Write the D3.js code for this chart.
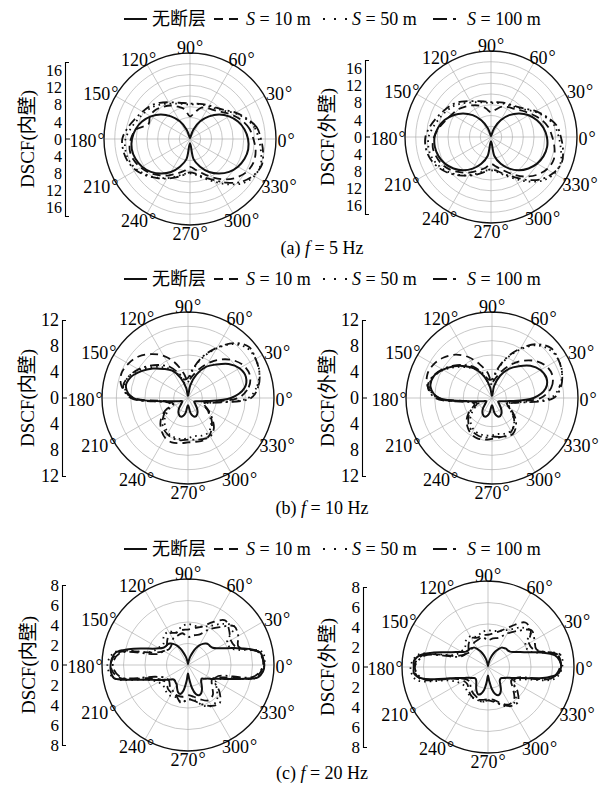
<!DOCTYPE html>
<html>
<head>
<meta charset="utf-8">
<script src="https://cdn.jsdelivr.net/npm/d3@7"></script>
<style>
body { margin: 0; background: #fff; }
text { font-family: "Liberation Serif", "Times New Roman", "Noto Sans CJK SC", serif; }
</style>
</head>
<body>
<svg id="chart" width="614" height="791"></svg>
<script>

// angle grids (degrees, counter-clockwise from 0°)
const ang10 = d3.range(0, 360, 10)
const ang5 = d3.range(0, 360, 5)

// (a) f = 5 Hz, inner wall
const aInNone = [10.8,10.3,9.5,8.4,7.1,5.5,3.8,1.9,0.3,0.2,0.3,1.9,3.8,5.5,7.1,8.4,9.5,10.3,10.8,11.0,10.8,10.3,9.5,8.4,7.1,5.5,3.8,0.8,3.8,5.5,7.1,8.4,9.5,10.3,10.8,11.0]
const aInS10 = [11.8,11.2,10.2,9.0,7.8,7.0,6.6,6.2,5.0,4.2,5.6,6.4,7.2,7.8,8.4,8.6,8.2,10.2,11.0,11.4,11.2,10.6,9.8,8.8,7.8,6.8,6.0,5.2,5.8,6.8,8.2,9.8,11.2,12.2,12.6,12.4]
const aInS50 = [12.8,12.2,11.0,9.6,8.2,7.4,7.0,6.8,6.6,6.4,6.6,7.0,7.6,8.4,9.2,9.8,10.4,11.2,12.0,12.2,12.0,11.4,10.4,9.4,8.4,7.4,6.6,6.4,6.8,7.8,9.2,11.0,12.8,13.8,14.0,13.4]
const aInS100 = [13.2,12.6,11.2,9.8,8.4,7.6,7.2,6.9,6.7,6.6,6.8,7.2,7.9,8.8,9.6,10.2,10.9,11.8,12.6,12.6,12.3,11.6,10.6,9.5,8.5,7.6,6.8,6.2,6.6,7.6,8.8,10.6,12.4,13.6,14.2,13.8]

// (a) f = 5 Hz, outer wall
const aOutNone = [10.4,9.9,9.1,8.1,6.8,5.3,3.6,1.8,0.3,0.2,0.3,1.8,3.6,5.3,6.8,8.1,9.2,10.0,10.5,10.6,10.4,9.9,9.1,8.1,6.8,5.3,3.6,0.8,3.6,5.3,6.8,8.1,9.1,9.9,10.4,10.6]
const aOutS10 = [11.4,10.8,9.8,8.6,7.6,6.8,6.4,6.0,5.2,4.6,5.4,6.2,6.8,7.4,8.0,8.4,9.0,9.8,10.6,11.0,10.8,10.4,9.6,8.6,7.6,6.6,5.8,5.0,5.6,6.6,8.0,9.6,11.0,12.0,12.4,12.0]
const aOutS50 = [12.6,12.0,10.8,9.4,8.0,7.2,6.8,6.6,6.4,6.3,6.5,6.9,7.4,8.2,9.0,9.6,10.2,10.9,11.6,11.8,11.6,11.0,10.2,9.2,8.2,7.2,6.4,6.2,6.6,7.6,9.0,10.8,12.6,13.6,13.8,13.2]
const aOutS100 = [13.0,12.4,11.0,9.6,8.2,7.4,7.0,6.8,6.6,6.5,6.7,7.1,7.7,8.6,9.4,10.0,10.7,11.5,12.2,12.3,12.0,11.3,10.4,9.3,8.3,7.4,6.6,6.0,6.4,7.4,8.6,10.4,12.2,13.4,14.0,13.6]

// (b) f = 10 Hz, inner wall
const bInNone = [6.0,8.0,8.6,8.3,7.4,6.1,5.0,3.5,1.8,0.3,1.4,3.0,4.4,5.3,6.4,7.5,8.5,8.8,7.6,2.6,1.3,0.9,1.2,2.0,2.6,2.8,2.2,1.0,2.2,2.8,2.6,2.0,1.3,1.0,1.3,2.5]
const bInS10 = [7.0,8.6,9.2,9.0,8.2,7.0,5.6,4.2,3.0,2.4,3.5,5.2,6.8,8.0,9.0,9.6,9.9,9.4,7.6,3.0,2.6,3.8,5.0,5.8,6.4,6.6,6.4,6.2,6.2,6.3,6.0,5.2,4.2,3.0,2.2,3.0]
const bInS50 = [8.4,9.8,10.6,10.9,10.8,9.8,8.0,6.0,4.0,2.2,2.0,3.2,4.6,5.6,6.7,7.8,8.8,9.0,7.8,3.0,2.0,3.0,4.2,5.0,5.6,5.8,5.8,5.6,5.4,5.6,5.6,5.0,4.0,3.0,2.4,3.6]
const bInS100 = [8.8,10.0,10.6,10.9,11.1,10.0,8.1,6.2,4.2,2.8,2.6,3.6,5.0,6.0,7.0,8.0,8.8,9.2,8.0,3.2,2.2,3.6,4.6,5.4,5.8,6.0,6.0,5.8,5.9,6.1,6.2,5.6,4.4,3.2,2.4,3.8]

// (b) f = 10 Hz, outer wall
const bOutNone = [5.8,7.6,8.1,7.8,7.0,5.8,4.7,3.3,1.7,0.3,1.5,3.2,4.7,5.8,6.9,7.9,8.7,8.7,7.4,2.6,1.3,0.9,1.2,2.0,2.6,2.8,2.2,1.0,2.2,2.8,2.6,2.0,1.3,1.0,1.3,2.5]
const bOutS10 = [6.8,8.4,9.0,8.8,8.0,6.8,5.4,4.0,2.8,2.2,3.6,5.0,6.6,7.9,8.8,9.4,9.6,9.1,7.4,3.0,2.6,3.6,4.6,5.3,5.8,6.0,5.9,5.7,5.6,5.6,5.4,4.8,3.9,2.8,2.2,3.0]
const bOutS50 = [8.2,9.6,10.4,10.7,10.5,9.6,7.8,5.8,3.8,2.0,2.0,3.2,4.6,5.6,6.7,7.8,8.7,8.9,7.6,3.0,2.0,2.8,3.9,4.6,5.1,5.3,5.3,5.2,5.1,5.3,5.3,4.8,3.8,2.8,2.3,3.5]
const bOutS100 = [8.6,9.8,10.4,10.7,10.8,9.8,8.0,6.0,4.0,2.6,2.6,3.6,5.0,6.0,7.0,8.0,8.8,9.1,7.9,3.2,2.2,3.4,4.3,5.0,5.4,5.6,5.6,5.4,5.5,5.7,5.8,5.2,4.2,3.0,2.4,3.8]

// (c) f = 20 Hz, inner wall (no-fault curve read every 5°)
const cInNone = [7.1,7.0,6.8,5.8,4.6,3.7,3.1,2.8,2.7,2.7,2.6,2.4,2.1,1.7,1.2,0.8,0.4,0.2,
  0.1,0.2,0.4,0.8,1.2,1.7,2.1,2.4,2.6,2.7,2.7,2.8,3.1,3.6,4.5,5.7,6.8,7.1,
  7.2,7.2,7.0,5.3,4.0,3.3,2.8,2.4,2.1,1.9,1.9,2.0,2.1,2.4,2.7,2.8,2.4,1.5,
  0.8,1.3,2.2,2.8,3.0,2.9,2.6,2.2,1.9,1.8,2.0,2.2,2.6,3.0,3.8,5.0,6.6,7.0]
const cInS10 = [7.0,6.8,4.8,4.6,5.0,5.4,4.6,3.8,3.5,3.3,3.3,3.2,3.4,3.0,2.6,2.6,3.4,6.6,7.2,6.6,3.6,2.8,2.6,2.9,3.0,3.0,3.0,2.8,3.0,3.4,3.8,3.6,2.9,2.6,3.4,6.4]
const cInS50 = [7.1,7.0,4.4,4.2,5.6,5.0,4.2,3.8,3.7,3.8,3.6,3.2,3.6,3.5,3.0,3.2,3.6,6.9,7.5,7.0,4.0,3.2,3.0,3.2,3.3,3.2,3.5,3.2,3.3,4.0,4.4,4.2,3.5,3.0,3.6,6.6]
const cInS100 = [7.0,6.7,5.0,5.4,5.6,4.6,3.8,3.0,2.8,2.6,3.0,2.9,2.8,2.4,2.3,2.6,3.0,6.4,7.0,6.4,3.2,2.4,2.3,2.6,2.8,3.1,3.6,3.2,3.4,3.9,4.4,4.6,3.8,2.8,3.0,6.2]

// (c) f = 20 Hz, outer wall
const cOutNone = [6.8,6.7,6.3,5.2,4.0,3.3,2.8,2.5,2.4,2.4,2.3,2.2,1.9,1.6,1.2,0.8,0.4,0.2,
  0.1,0.2,0.4,0.8,1.2,1.6,1.9,2.2,2.3,2.4,2.4,2.5,2.8,3.3,4.0,5.2,6.4,6.9,
  6.9,6.9,6.2,4.2,3.0,2.4,2.0,1.8,1.6,1.6,1.7,1.9,2.2,2.5,2.7,2.6,2.2,1.4,
  0.8,1.3,2.1,2.6,2.8,2.7,2.4,2.0,1.7,1.6,1.6,1.8,2.0,2.4,3.0,4.0,5.6,6.6]
const cOutS10 = [6.7,6.6,4.6,4.4,5.2,5.4,4.4,3.6,3.2,3.0,3.0,2.9,3.1,2.8,2.4,2.4,3.0,6.2,6.9,6.4,3.2,2.6,2.5,2.8,3.1,3.2,3.1,3.0,3.1,3.6,4.0,3.8,3.0,2.5,3.0,6.0]
const cOutS50 = [6.9,6.8,4.2,4.0,5.2,4.8,4.0,3.6,3.4,3.4,3.3,3.0,3.3,3.2,2.8,2.9,3.3,6.6,7.2,6.8,3.7,3.0,2.8,3.0,3.2,3.2,3.3,3.1,3.2,3.8,4.2,4.0,3.3,2.8,3.4,6.3]
const cOutS100 = [6.8,6.5,4.8,5.0,5.3,4.4,3.6,2.9,2.7,2.5,2.8,2.7,2.6,2.3,2.2,2.4,2.8,6.0,6.8,6.2,3.0,2.3,2.2,2.5,2.8,3.0,3.3,3.1,3.3,3.7,4.2,4.3,3.6,2.7,2.9,6.0]

// left value axis ticks
const aTicks = [-16,-12,-8,-4,0,4,8,12,16]
const bTicks = [-12,-8,-4,0,4,8,12]
const cTicks = [-8,-6,-4,-2,0,2,4,6,8]

const legendNames = ['无断层', '10 m', '50 m', '100 m']
const captions = [['(a)', '5 Hz'], ['(b)', '10 Hz'], ['(c)', '20 Hz']]

const dashes = [null, '8,5', '1.6,4', '9,4,2,4']
const widths = [2, 1.8, 1.8, 1.8]

let svg = d3.select('#chart')
const R = 86

function series(angles, list){
	return list.map(function(vals, i){
		return { pts: angles.map((a, j) => [a, vals[j]]), k: i }
	})
}

let panels = [
	{cx: 190, cy: 139, ax: 65, lx: 27, max: 16, amax: 18, alen: 77, ticks: aTicks, fs: 16, wall: '内壁',
		lines: series(ang10, [aInNone, aInS10, aInS50, aInS100])},
	{cx: 491, cy: 137, ax: 365, lx: 327, max: 16, amax: 18, alen: 77, ticks: aTicks, fs: 16, wall: '外壁',
		lines: series(ang10, [aOutNone, aOutS10, aOutS50, aOutS100])},
	{cx: 188, cy: 398, ax: 62, lx: 27, max: 12, amax: 12, alen: 78, ticks: bTicks, fs: 18, wall: '内壁',
		lines: series(ang10, [bInNone, bInS10, bInS50, bInS100])},
	{cx: 492, cy: 398, ax: 362, lx: 327, max: 12, amax: 12, alen: 78, ticks: bTicks, fs: 18, wall: '外壁',
		lines: series(ang10, [bOutNone, bOutS10, bOutS50, bOutS100])},
	{cx: 188, cy: 665, ax: 62, lx: 28, max: 8, amax: 8, alen: 80, ticks: cTicks, fs: 17, wall: '内壁',
		lines: [series(ang5, [cInNone])[0]].concat(series(ang10, [cInNone, cInS10, cInS50, cInS100]).slice(1))},
	{cx: 488, cy: 667, ax: 363, lx: 327, max: 8, amax: 8, alen: 80, ticks: cTicks, fs: 17, wall: '外壁',
		lines: [series(ang5, [cOutNone])[0]].concat(series(ang10, [cOutNone, cOutS10, cOutS50, cOutS100]).slice(1))}
]

function drawPanel(p){

	let g = svg.append('g').attr('transform', 'translate(' + p.cx + ',' + p.cy + ')')
	let r = d3.scaleLinear().domain([0, p.max]).range([0, R])

	g.selectAll('.ring')
		.data(d3.range(2, p.max, 2))
		.enter()
		.append('circle')
		.attr('r', d => r(d))
		.attr('fill', 'none')
		.attr('stroke', '#b0b0b0')
		.attr('stroke-width', 0.7)

	g.selectAll('.spoke')
		.data(d3.range(0, 180, 30))
		.enter()
		.append('line')
		.attr('x1', d => R * Math.cos(d * Math.PI / 180))
		.attr('y1', d => -R * Math.sin(d * Math.PI / 180))
		.attr('x2', d => -R * Math.cos(d * Math.PI / 180))
		.attr('y2', d => R * Math.sin(d * Math.PI / 180))
		.attr('stroke', '#b0b0b0')
		.attr('stroke-width', 0.7)

	g.append('circle')
		.attr('r', R)
		.attr('fill', 'none')
		.attr('stroke', '#111')
		.attr('stroke-width', 1.4)

	let line = d3.lineRadial()
		.angle(d => (90 - d[0]) * Math.PI / 180)
		.radius(d => r(d[1]))
		.curve(d3.curveCatmullRomClosed.alpha(0.5))

	// draw S curves first, no-fault curve last
	p.lines.slice(1).concat([p.lines[0]]).forEach(function(s){
		g.append('path')
			.datum(s.pts)
			.attr('d', line)
			.attr('fill', 'none')
			.attr('stroke', '#111')
			.attr('stroke-width', widths[s.k])
			.attr('stroke-dasharray', dashes[s.k])
	})

	// angle labels
	let lab = g.selectAll('.alab')
		.data(d3.range(0, 360, 30))
		.enter()
		.append('text')
		.attr('x', d => (d == 0 ? 96 : 103) * Math.cos(d * Math.PI / 180))
		.attr('y', d => -93 * Math.sin(d * Math.PI / 180) + 1.5)
		.attr('text-anchor', 'middle')
		.attr('dominant-baseline', 'central')
		.attr('font-size', 18)
	lab.append('tspan').text(d => d)
	lab.append('tspan').attr('dx', 1).attr('dy', -1).text('°')

	// value axis on the left
	let ay = d3.scaleLinear().domain([-p.amax, p.amax]).range([p.alen, -p.alen])
	let ag = svg.append('g')
		.attr('transform', 'translate(' + p.ax + ',' + p.cy + ')')
		.call(d3.axisLeft(ay).tickValues(p.ticks).tickFormat(d => Math.abs(d)).tickSizeInner(0).tickSizeOuter(-4).tickPadding(3))
	ag.attr('font-family', null).attr('font-size', p.fs)
	ag.select('.domain').attr('stroke-width', 1.1)
	ag.append('line').attr('x1', 0).attr('x2', 5).attr('y1', ay(0)).attr('y2', ay(0)).attr('stroke', '#000')

	svg.append('text')
		.attr('transform', 'translate(' + p.lx + ',' + p.cy + ') rotate(-90)')
		.attr('text-anchor', 'middle')
		.attr('dominant-baseline', 'central')
		.attr('font-size', 19)
		.text('DSCF(' + p.wall + ')')
}

panels.forEach(drawPanel)

function drawLegend(y){

	let g = svg.append('g').attr('transform', 'translate(0,' + y + ')')
	let samples = [[124, 147], [214, 240], [323, 347], [433, 460]]
	let textX = [152, 246, 352, 467]

	samples.forEach(function(s, i){
		g.append('line')
			.attr('x1', s[0]).attr('x2', s[1])
			.attr('y1', 0).attr('y2', 0)
			.attr('stroke', '#111')
			.attr('stroke-width', 2)
			.attr('stroke-dasharray', i == 1 ? '9,6' : i == 2 ? '2,9' : i == 3 ? '14,6,3,10' : null)

		let t = g.append('text')
			.attr('x', textX[i])
			.attr('y', 6)
			.attr('font-size', 18)
		if(i == 0){
			t.text(legendNames[i])
		}
		else{
			t.append('tspan').attr('font-style', 'italic').text('S')
			t.append('tspan').text(' = ' + legendNames[i])
		}
	})
}

[19, 279, 549].forEach(drawLegend)

let capY = [254, 514, 779]
captions.forEach(function(c, i){
	let t = svg.append('text')
		.attr('x', 322)
		.attr('y', capY[i])
		.attr('text-anchor', 'middle')
		.attr('font-size', 18)
	t.append('tspan').text(c[0] + '  ')
	t.append('tspan').attr('font-style', 'italic').text('f')
	t.append('tspan').text(' = ' + c[1])
})

</script>
</body>
</html>
